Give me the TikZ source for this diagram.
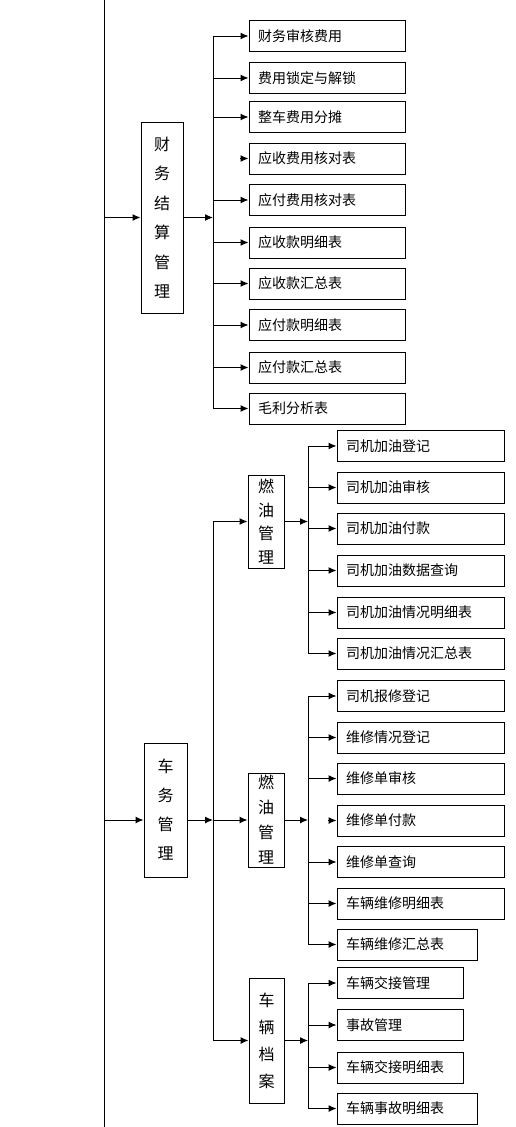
\documentclass[tikz,border=0pt]{standalone}
\usepackage{fontspec}
\newfontfamily\cjk{Noto Sans CJK SC}
\usetikzlibrary{arrows.meta}

\tikzset{
  leaf/.style={draw, line width=1pt, minimum height=31pt, inner xsep=9pt, inner ysep=0pt,
    text width=#1, align=left, font=\cjk\fontsize{14}{16}\selectfont},
  group/.style={draw, line width=1pt, inner sep=0pt, align=center,
    font=\cjk\fontsize{16}{#1}\selectfont},
  arr/.style={line width=1pt, -{Latex[length=8pt,width=7pt]}},
  branch/.style={line width=1pt},
}

\begin{document}
\begin{tikzpicture}[x=1pt,y=-1pt]

    \useasboundingbox (0,0) rectangle (515,1127);

    % main line
    \coordinate (m) at (104,0);
    \draw[branch] (104,0) -- (104,1127);

    % finance
    \node[group=29.5pt, minimum width=42pt, minimum height=191pt] (fin) at (162,217.5)
        {财\\务\\结\\算\\管\\理};
    \foreach \y/\t [count=\i] in {36/财务审核费用, 78/费用锁定与解锁, 117/整车费用分摊,
        158.5/应收费用核对表, 200/应付费用核对表, 242.5/应收款明细表, 283.5/应收款汇总表,
        325/应付款明细表, 367.5/应付款汇总表, 408.5/毛利分析表}
        \node[leaf=138pt] (f\i) at (327,\y) {\t};

    \coordinate (fb) at (213,0);
    \draw[arr] (m |- fin.west) -- (fin.west);
    \draw[arr] (fin.east) -- (fb |- fin.east);
    \draw[branch] (fb |- f1.west) -- (fb |- f10.west);
    \foreach \i in {1,2,3,5,6,7,8,9,10}
        \draw[arr] (fb |- f\i.west) -- (f\i.west);
    \draw[arr] ([xshift=-9pt]f4.west) -- (f4.west);

    % vehicle
    \node[group=29pt, minimum width=43pt, minimum height=134pt] (veh) at (165.5,810)
        {车\\务\\管\\理};
    \node[group=23.5pt, minimum width=36pt, minimum height=93pt] (fuel) at (266,521.5)
        {燃\\油\\管\\理};
    \node[group=25pt, minimum width=36pt, minimum height=94pt] (rep) at (266,820)
        {燃\\油\\管\\理};
    \node[group=27pt, minimum width=35pt, minimum height=125pt] (arc) at (266.5,1040.5)
        {车\\辆\\档\\案};

    \coordinate (vb) at (213,0);
    \draw[arr] (m |- rep.west) -- (veh.west |- rep.west);
    \draw[arr] (veh.east |- rep.west) -- (vb |- rep.west);
    \draw[branch] (vb |- fuel.west) -- (vb |- arc.west);
    \foreach \g in {fuel,rep,arc}
        \draw[arr] (vb |- \g.west) -- (\g.west);

    % fuel
    \foreach \y/\t [count=\i] in {446/司机加油登记, 487.5/司机加油审核, 528.5/司机加油付款,
        570.5/司机加油数据查询, 612.5/司机加油情况明细表, 653.5/司机加油情况汇总表}
        \node[leaf=149pt] (o\i) at (420.5,\y) {\t};

    \coordinate (ob) at (308,0);
    \draw[arr] (fuel.east) -- (ob |- fuel.east);
    \draw[branch] (ob |- o1.west) -- (ob |- o6.west);
    \foreach \i in {1,...,6}
        \draw[arr] (ob |- o\i.west) -- (o\i.west);

    % repair
    \foreach \x/\y/\w/\t [count=\i] in {420.5/696/149pt/司机报修登记, 420.5/737.5/149pt/维修情况登记,
        420.5/778.5/149pt/维修单审核, 420.5/820.5/149pt/维修单付款, 420.5/862/149pt/维修单查询,
        420.5/903.5/149pt/车辆维修明细表, 407/944.5/122pt/车辆维修汇总表}
        \node[leaf=\w] (r\i) at (\x,\y) {\t};

    \coordinate (rb) at (308,0);
    \draw[arr] (rep.east) -- (rb |- rep.east);
    \draw[branch] (rb |- r1.west) -- (rb |- r7.west);
    \foreach \i in {1,2,3,5,6,7}
        \draw[arr] (rb |- r\i.west) -- (r\i.west);
    \draw[arr] ([xshift=-9pt]r4.west) -- (r4.west);

    % archive
    \foreach \x/\y/\w/\t [count=\i] in {400/983/108pt/车辆交接管理, 400/1025/108pt/事故管理,
        400/1067.5/108pt/车辆交接明细表, 407/1108.5/122pt/车辆事故明细表}
        \node[leaf=\w] (a\i) at (\x,\y) {\t};

    \coordinate (ab) at (308,0);
    \draw[arr] (arc.east) -- (ab |- arc.east);
    \draw[branch] (ab |- a1.west) -- (ab |- a4.west);
    \foreach \i in {1,...,4}
        \draw[arr] (ab |- a\i.west) -- (a\i.west);

\end{tikzpicture}
\end{document}
